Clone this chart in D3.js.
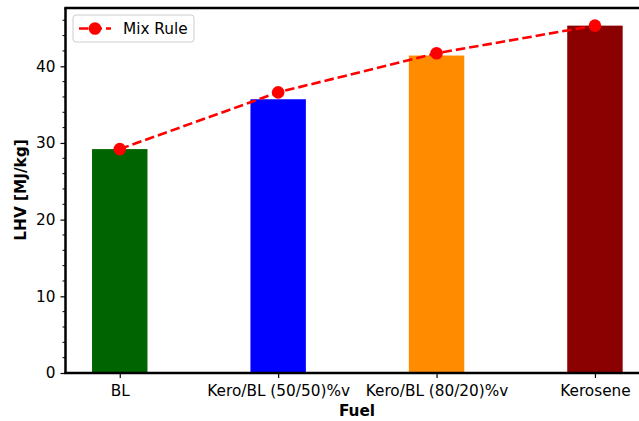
<!DOCTYPE html>
<html>
<head>
<meta charset="utf-8">
<script src="https://cdn.jsdelivr.net/npm/d3@7"></script>
<style>
  body { margin: 0; background: #fff; }
  svg { display: block; }
  svg text { font-family: "DejaVu Sans", sans-serif; }
</style>
</head>
<body>
<div id="chart"></div>
<script>
const fuels = ["BL", "Kero/BL (50/50)%v", "Kero/BL (80/20)%v", "Kerosene"];
const lhv = [29.2, 35.7, 41.4, 45.3];
const mixRule = [29.2, 36.6, 41.7, 45.3];
const barColors = ["#006400", "#0000ff", "#ff8c00", "#8b0000"];
const yTicks = [0, 10, 20, 30, 40];

const width = 639, height = 421;
const margin = { left: 65.5, top: 8, bottom: 48 };
const barWidth = 0.35;
const fs = "15.3px";

const svg = d3.select("#chart")
    .append("svg")
    .attr("width", width)
    .attr("height", height);

// x in category units, like matplotlib (bars at 0..3, padded 5%)
const x = d3.scaleLinear()
    .domain([-0.3425, 3.3425])
    .range([margin.left, margin.left + 3.685 * 158.4]);

const y = d3.scaleLinear()
    .domain([0, 47.6])
    .range([height - margin.bottom, margin.top]);

// bars
svg.selectAll(".bar")
    .data(fuels)
    .join("rect")
    .attr("class", "bar")
    .attr("x", (d, i) => x(i - barWidth / 2))
    .attr("width", x(barWidth) - x(0))
    .attr("y", (d, i) => y(lhv[i]))
    .attr("height", (d, i) => y(0) - y(lhv[i]))
    .attr("fill", (d, i) => barColors[i]);

// mix rule line
const line = d3.line()
    .x((d, i) => x(i))
    .y(d => y(d));

svg.append("path")
    .datum(mixRule)
    .attr("d", line)
    .attr("fill", "none")
    .attr("stroke", "#ff0000")
    .attr("stroke-width", 2.6)
    .attr("stroke-dasharray", "9.5,4");

svg.selectAll(".pt")
    .data(mixRule)
    .join("circle")
    .attr("class", "pt")
    .attr("cx", (d, i) => x(i))
    .attr("cy", d => y(d))
    .attr("r", 6.3)
    .attr("fill", "#ff0000");

// y axis with minor ticks
const yAxis = d3.axisLeft(y)
    .tickValues(yTicks)
    .tickSize(5)
    .tickPadding(5)
    .tickFormat(d3.format("d"));

const gy = svg.append("g")
    .attr("transform", `translate(${margin.left},0)`)
    .call(yAxis);

const minor = d3.range(0, 47.6, 2).filter(v => v % 10 !== 0);
gy.selectAll(".minor")
    .data(minor)
    .join("line")
    .attr("class", "minor")
    .attr("x1", 0)
    .attr("x2", -3)
    .attr("y1", d => y(d))
    .attr("y2", d => y(d))
    .attr("stroke", "#000")
    .attr("stroke-width", 1);

// x axis
const xAxis = d3.axisBottom(x)
    .tickValues(d3.range(fuels.length))
    .tickSize(5)
    .tickPadding(4)
    .tickFormat(i => fuels[i]);

const gx = svg.append("g")
    .attr("transform", `translate(0,${y(0)})`)
    .call(xAxis);

[gx, gy].forEach(g => {
    g.attr("font-family", null).attr("font-size", null);
    g.select(".domain").remove();
    g.selectAll(".tick line").attr("stroke", "#000").attr("stroke-width", 1.2);
    g.selectAll("text").attr("fill", "#000").style("font-size", fs);
});
gx.selectAll("text").attr("dy", "0.9em");

// spines
svg.append("line")
    .attr("x1", margin.left).attr("x2", margin.left)
    .attr("y1", y(47.6)).attr("y2", y(0))
    .attr("stroke", "#000").attr("stroke-width", 2.5);
svg.append("line")
    .attr("x1", margin.left - 1.25).attr("x2", width)
    .attr("y1", y(0)).attr("y2", y(0))
    .attr("stroke", "#000").attr("stroke-width", 2.5);
svg.append("line")
    .attr("x1", margin.left - 1.25).attr("x2", width)
    .attr("y1", y(47.6)).attr("y2", y(47.6))
    .attr("stroke", "#000").attr("stroke-width", 2.5);

// axis labels
svg.append("text")
    .attr("x", 357)
    .attr("y", 416)
    .attr("text-anchor", "middle")
    .style("font-size", fs)
    .style("font-weight", "bold")
    .text("Fuel");

svg.append("text")
    .attr("transform", `translate(26,190) rotate(-90)`)
    .attr("text-anchor", "middle")
    .style("font-size", fs)
    .style("font-weight", "bold")
    .text("LHV [MJ/kg]");

// legend
const lg = svg.append("g").attr("transform", "translate(73,15)");
lg.append("rect")
    .attr("width", 121).attr("height", 27).attr("rx", 3)
    .attr("fill", "#fff").attr("fill-opacity", 0.8)
    .attr("stroke", "#ccc");
lg.append("line")
    .attr("x1", 6).attr("x2", 38).attr("y1", 13.5).attr("y2", 13.5)
    .attr("stroke", "#ff0000").attr("stroke-width", 2.6)
    .attr("stroke-dasharray", "9.5,4");
lg.append("circle")
    .attr("cx", 22).attr("cy", 13.5).attr("r", 6.3).attr("fill", "#ff0000");
lg.append("text")
    .attr("x", 50).attr("y", 19)
    .style("font-size", fs)
    .text("Mix Rule");
</script>
</body>
</html>
